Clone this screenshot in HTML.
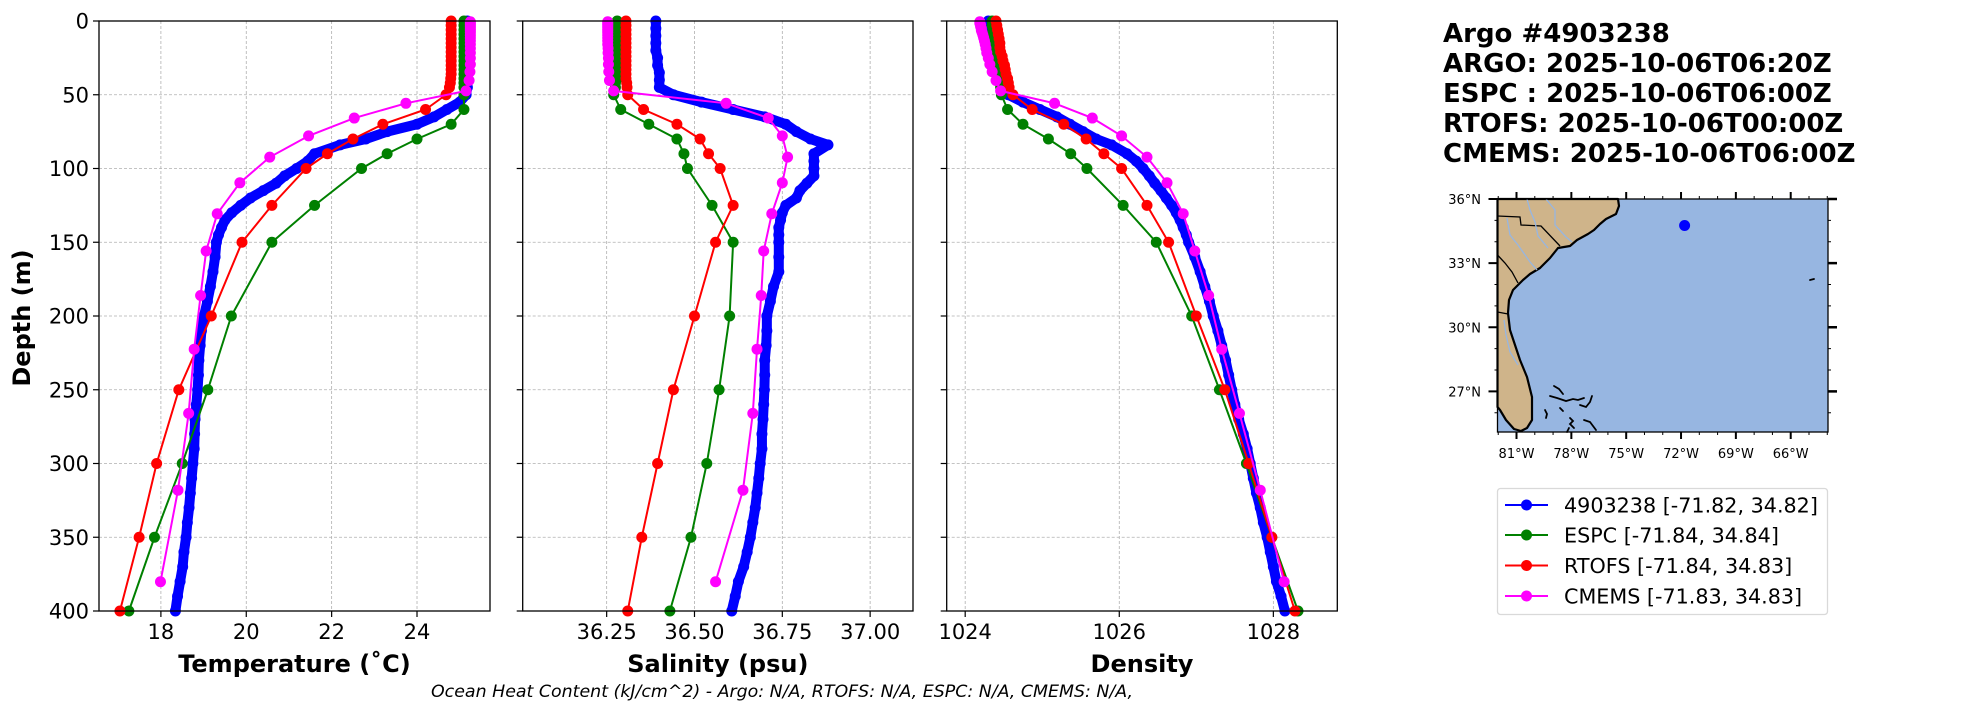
<!DOCTYPE html>
<html><head><meta charset="utf-8"><title>Argo profile comparison</title>
<style>
html,body{margin:0;padding:0;background:#fff;}
svg{display:block;font-family:"DejaVu Sans","Liberation Sans",sans-serif;}
</style></head>
<body>
<svg id="fig" width="1967" height="712" viewBox="0 0 1967 712" xmlns="http://www.w3.org/2000/svg">
<rect width="1967" height="712" fill="#fff"/>
<g id="panels"></g>
<text x="0" y="0" transform="translate(30,318) rotate(-90)" text-anchor="middle" font-size="24" font-weight="bold">Depth (m)</text>
<text x="431" y="697" font-size="16.5" font-style="italic" textLength="702" lengthAdjust="spacingAndGlyphs">Ocean Heat Content (kJ/cm^2) - Argo: N/A,  RTOFS: N/A,  ESPC: N/A,  CMEMS: N/A,</text>
<g font-weight="bold" font-size="26">
<text x="1443" y="42">Argo #4903238</text>
<text x="1443" y="72">ARGO: 2025-10-06T06:20Z</text>
<text x="1443" y="102">ESPC : 2025-10-06T06:00Z</text>
<text x="1443" y="132">RTOFS: 2025-10-06T00:00Z</text>
<text x="1443" y="162">CMEMS: 2025-10-06T06:00Z</text>
</g>
<g id="map">
<rect x="1497.5" y="199" width="330.5" height="233" fill="#97b6e1"/>
<polygon fill="#cfb48a" stroke="#000" stroke-width="2.2" stroke-linejoin="round" points="1497.5,199 1618,199 1619,206 1616,214 1606,219 1600,224 1594,230 1588,234 1577,240 1570,246 1558,248 1550,258 1540,268 1530,274 1523,280 1513,290 1509,300 1508,313 1510,330 1515,345 1520,360 1527,377 1532,397 1532,420 1527,428 1521,431 1514,429 1506,420 1500,410 1497.5,407"/>
<polyline fill="none" stroke="#000" stroke-width="1.3" points="1497.5,216 1520,217 1521,225 1541,226 1560,246"/>
<polyline fill="none" stroke="#000" stroke-width="1.3" points="1497.5,255 1505,263 1512,272 1518,283"/>
<polyline fill="none" stroke="#000" stroke-width="1.3" points="1497.5,312 1508,314"/>
<polyline fill="none" stroke="#97b6e1" stroke-width="1.3" points="1527,199 1530,210 1535,222 1538,236 1548,248"/>
<polyline fill="none" stroke="#97b6e1" stroke-width="1.3" points="1546,199 1555,210 1555,225 1566,237 1572,242"/>
<polyline fill="none" stroke="#97b6e1" stroke-width="1.3" points="1507,218 1510,235 1518,245 1530,262 1537,270"/>
<polyline fill="none" stroke="#97b6e1" stroke-width="1.3" points="1504,320 1506,335 1510,352 1518,365"/>
<g fill="none" stroke="#000" stroke-width="1.8" stroke-linecap="round">
<polyline points="1554,386 1559,389 1563,394"/>
<polyline points="1550,396 1557,398 1566,401 1573,399 1578,400 1584,398"/>
<polyline points="1580,405 1586,407 1590,402 1592,396"/>
<polyline points="1560,408 1563,411"/>
<polyline points="1545,410 1547,414 1546,418"/>
<polyline points="1570,418 1573,421 1570,424 1574,428"/>
<polyline points="1567,432 1569,428"/>
<polyline points="1584,420 1590,422 1596,430"/>
<polyline points="1810,280 1814,279"/>
</g>
<circle cx="1684.6" cy="225.5" r="5.5" fill="#0000ff"/>
<rect x="1497.5" y="199" width="330.5" height="233" fill="none" stroke="#000" stroke-width="1.3"/>
<g id="mapticks"></g>
</g>
<g>
<rect x="1497.5" y="488.5" width="330" height="126" rx="3" fill="#fff" stroke="#d9d9d9" stroke-width="1.3"/>
<g><line x1="1505" y1="505" x2="1548" y2="505" stroke="#0000ff" stroke-width="2"/><circle cx="1526.5" cy="505" r="5.5" fill="#0000ff"/><text x="1564" y="512.5" font-size="20.7">4903238 [-71.82, 34.82]</text></g>
<g><line x1="1505" y1="535" x2="1548" y2="535" stroke="#008000" stroke-width="2"/><circle cx="1526.5" cy="535" r="5.5" fill="#008000"/><text x="1564" y="542.5" font-size="20.7">ESPC [-71.84, 34.84]</text></g>
<g><line x1="1505" y1="565.5" x2="1548" y2="565.5" stroke="#ff0000" stroke-width="2"/><circle cx="1526.5" cy="565.5" r="5.5" fill="#ff0000"/><text x="1564" y="573" font-size="20.7">RTOFS [-71.84, 34.83]</text></g>
<g><line x1="1505" y1="596" x2="1548" y2="596" stroke="#ff00ff" stroke-width="2"/><circle cx="1526.5" cy="596" r="5.5" fill="#ff00ff"/><text x="1564" y="603.5" font-size="20.7">CMEMS [-71.83, 34.83]</text></g>
</g>
</svg>
<script>
// ---------- data ----------
const depthTicks = [0,50,100,150,200,250,300,350,400];
const tempTicks = [18,20,22,24];
const salTicks = [36.25,36.50,36.75,37.00];
const densTicks = [1024,1026,1028];
const tempTickLabels = ["18","20","22","24"];
const salTickLabels = ["36.25","36.50","36.75","37.00"];
const densTickLabels = ["1024","1026","1028"];
const depthTickLabels = ["0","50","100","150","200","250","300","350","400"];

const argoDepth = [0,5,10,15,20,25,30,35,40,45,50,55,60,65,70,75,80,84,90,95,100,105,110,115,120,125,130,135,140,145,150,160,170,180,190,200,210,220,230,240,250,260,270,280,290,300,310,320,330,340,350,360,370,380,390,400];
const argoTemp = [25.18,25.18,25.18,25.18,25.18,25.18,25.18,25.18,25.18,25.18,25.15,25.0,24.7,24.4,24.0,23.3,22.8,22.2,21.6,21.44,21.18,20.9,20.7,20.4,20.1,19.87,19.66,19.5,19.42,19.35,19.3,19.27,19.22,19.16,19.09,19.01,18.95,18.92,18.89,18.88,18.86,18.83,18.8,18.79,18.78,18.75,18.72,18.69,18.66,18.62,18.59,18.54,18.51,18.45,18.39,18.34];
const argoSal = [36.39,36.39,36.39,36.39,36.39,36.395,36.395,36.4,36.4,36.4,36.44,36.52,36.61,36.7,36.76,36.79,36.83,36.88,36.84,36.84,36.84,36.84,36.82,36.8,36.79,36.76,36.75,36.745,36.74,36.74,36.74,36.74,36.74,36.725,36.716,36.706,36.706,36.704,36.7,36.7,36.699,36.697,36.695,36.692,36.692,36.687,36.683,36.678,36.673,36.666,36.659,36.65,36.64,36.625,36.616,36.606];
const argoDens = [1024.3,1024.32,1024.34,1024.36,1024.38,1024.4,1024.42,1024.44,1024.46,1024.5,1024.56,1024.75,1024.97,1025.19,1025.36,1025.53,1025.7,1025.9,1026.1,1026.22,1026.31,1026.39,1026.46,1026.54,1026.61,1026.68,1026.74,1026.79,1026.83,1026.87,1026.9,1026.98,1027.05,1027.11,1027.17,1027.22,1027.28,1027.33,1027.38,1027.42,1027.46,1027.5,1027.55,1027.61,1027.66,1027.7,1027.74,1027.78,1027.83,1027.87,1027.92,1027.96,1028.0,1028.04,1028.1,1028.15];

const espcDepth = [0,3,6,9,12,15,18,21,24,27,30,33,36,39,42,45,50,60,70,80,90,100,125,150,200,250,300,350,400];
const espcTemp = [25.1,25.1,25.1,25.1,25.1,25.1,25.1,25.1,25.1,25.1,25.1,25.1,25.1,25.1,25.1,25.1,25.1,25.1,24.8,24.0,23.3,22.7,21.6,20.6,19.65,19.1,18.5,17.85,17.25];
const espcSal = [36.28,36.28,36.28,36.28,36.28,36.28,36.28,36.28,36.28,36.28,36.28,36.28,36.28,36.28,36.275,36.275,36.27,36.29,36.37,36.45,36.47,36.48,36.55,36.61,36.6,36.57,36.535,36.49,36.43];
const espcDens = [1024.35,1024.35,1024.36,1024.36,1024.37,1024.38,1024.39,1024.4,1024.4,1024.41,1024.42,1024.42,1024.43,1024.44,1024.45,1024.46,1024.47,1024.55,1024.75,1025.08,1025.37,1025.58,1026.05,1026.48,1026.94,1027.3,1027.65,1027.98,1028.32];

const rtofsDepth = [0,3,6,9,12,15,18,21,24,27,30,33,36,39,42,45,50,60,70,80,90,100,125,150,200,250,300,350,400];
const rtofsTemp = [24.8,24.8,24.8,24.8,24.8,24.8,24.8,24.8,24.8,24.8,24.8,24.8,24.8,24.79,24.78,24.76,24.68,24.2,23.2,22.5,21.9,21.4,20.6,19.9,19.18,18.42,17.9,17.49,17.04];
const rtofsSal = [36.305,36.305,36.305,36.305,36.305,36.305,36.305,36.305,36.305,36.305,36.305,36.305,36.305,36.305,36.307,36.308,36.31,36.355,36.45,36.516,36.54,36.573,36.61,36.56,36.5,36.44,36.395,36.35,36.31];
const rtofsDens = [1024.4,1024.41,1024.42,1024.43,1024.44,1024.45,1024.45,1024.46,1024.48,1024.49,1024.51,1024.52,1024.53,1024.55,1024.56,1024.57,1024.62,1024.87,1025.28,1025.57,1025.8,1026.03,1026.36,1026.64,1027.0,1027.37,1027.68,1027.98,1028.28];

const cmemsDepth = [0.5,1.5,2.6,3.8,5.1,6.4,7.9,9.6,11.4,13.5,15.8,18.5,21.6,25.2,29.4,34.4,40.3,47.4,55.8,65.8,77.9,92.3,109.7,130.7,155.9,186.1,222.5,266.0,318.1,380.2];
const cmemsTemp = [25.25,25.25,25.25,25.25,25.25,25.25,25.25,25.25,25.25,25.25,25.25,25.25,25.25,25.25,25.25,25.24,25.22,25.15,23.74,22.53,21.46,20.55,19.85,19.32,19.06,18.93,18.78,18.65,18.4,17.99];
const cmemsSal = [36.253,36.253,36.253,36.253,36.253,36.253,36.253,36.253,36.253,36.253,36.253,36.254,36.254,36.255,36.255,36.256,36.258,36.27,36.59,36.71,36.75,36.765,36.75,36.72,36.697,36.69,36.678,36.666,36.638,36.56];
const cmemsDens = [1024.19,1024.19,1024.2,1024.2,1024.21,1024.21,1024.22,1024.23,1024.24,1024.25,1024.26,1024.27,1024.28,1024.3,1024.32,1024.35,1024.4,1024.46,1025.16,1025.65,1026.03,1026.36,1026.62,1026.83,1026.98,1027.16,1027.33,1027.56,1027.83,1028.14];

const mapLonTicks = [-81,-78,-75,-72,-69,-66];
const mapLonLabels = ["81°W","78°W","75°W","72°W","69°W","66°W"];
const mapLatTicks = [27,30,33,36];
const mapLatLabels = ["27°N","30°N","33°N","36°N"];

// ---------- drawing ----------
const NS = "http://www.w3.org/2000/svg";
const Y0 = 21, Y1 = 611;
function yScale(d){ return Y0 + (d/400)*(Y1-Y0); }
function mk(tag, attrs, parent){
  const e = document.createElementNS(NS, tag);
  for (const k in attrs) e.setAttribute(k, attrs[k]);
  parent.appendChild(e);
  return e;
}
const panels = document.getElementById('panels');
const panelDefs = [
  {key:'temperature', x0:99, x1:490, lo:16.55, hi:25.71, ticks:tempTicks, labels:tempTickLabels, title:'Temperature (˚C)', vals:[argoTemp,espcTemp,rtofsTemp,cmemsTemp], showDepth:true},
  {key:'salinity', x0:522.7, x1:913, lo:36.011, hi:37.122, ticks:salTicks, labels:salTickLabels, title:'Salinity (psu)', vals:[argoSal,espcSal,rtofsSal,cmemsSal], showDepth:false},
  {key:'density', x0:946.7, x1:1337.3, lo:1023.76, hi:1028.83, ticks:densTicks, labels:densTickLabels, title:'Density', vals:[argoDens,espcDens,rtofsDens,cmemsDens], showDepth:false}
];
const seriesDepths = [argoDepth, espcDepth, rtofsDepth, cmemsDepth];
const seriesNames = ['argo','espc','rtofs','cmems'];
const seriesColors = ['#0000ff','#008000','#ff0000','#ff00ff'];
const drawOrder = [0,1,2,3];

panelDefs.forEach(p => {
  const g = mk('g', {}, panels);
  
  
  const xs = v => p.x0 + (v - p.lo)/(p.hi - p.lo)*(p.x1 - p.x0);
  p.ticks.forEach(t => {
    const l = mk('line', {x1:xs(t), x2:xs(t), y1:Y0, y2:Y1, stroke:'#b0b0b0', 'stroke-width':0.8, 'stroke-dasharray':'3,2'}, g);
    
    
  });
  depthTicks.forEach(d => {
    const l = mk('line', {x1:p.x0, x2:p.x1, y1:yScale(d), y2:yScale(d), stroke:'#b0b0b0', 'stroke-width':0.8, 'stroke-dasharray':'3,2'}, g);
    
    
  });
  drawOrder.forEach(si => {
    const vals = p.vals[si], deps = seriesDepths[si];
    const sg = mk('g', {}, g);
    
    
    const pts = vals.map((v,i) => xs(v).toFixed(2) + ',' + yScale(deps[i]).toFixed(2)).join(' ');
    if (si === 0) {
      const thick = mk('polyline', {points:pts, fill:'none', stroke:seriesColors[si], 'stroke-width':10, 'stroke-linejoin':'round', 'stroke-linecap':'round'}, sg);
      
      
    }
    const ln = mk('polyline', {points:pts, fill:'none', stroke:seriesColors[si], 'stroke-width':2}, sg);
    
    
    vals.forEach((v,i) => {
      const c = mk('circle', {cx:xs(v), cy:yScale(deps[i]), r:5.5, fill:seriesColors[si]}, sg);
      
      
    });
  });
  const fr = mk('rect', {x:p.x0, y:Y0, width:p.x1-p.x0, height:Y1-Y0, fill:'none', stroke:'#000', 'stroke-width':1.3}, g);
  
  
  p.ticks.forEach((t,i) => {
    const tk = mk('line', {x1:xs(t), x2:xs(t), y1:Y1, y2:Y1+6, stroke:'#000', 'stroke-width':1.2}, g);
    
    
    const tl = mk('text', {x:xs(t), y:Y1+28, 'text-anchor':'middle', 'font-size':21}, g);
    tl.textContent = p.labels[i];
    
    
  });
  depthTicks.forEach((d,i) => {
    const tk = mk('line', {x1:p.x0-6, x2:p.x0, y1:yScale(d), y2:yScale(d), stroke:'#000', 'stroke-width':1.2}, g);
    
    
    if (p.showDepth) {
      const tl = mk('text', {x:p.x0-10, y:yScale(d)+7.5, 'text-anchor':'end', 'font-size':21}, g);
      tl.textContent = depthTickLabels[i];
      
      
    }
  });
  const at = mk('text', {x:(p.x0+p.x1)/2, y:672, 'text-anchor':'middle', 'font-size':24, 'font-weight':'bold'}, g);
  at.textContent = p.title;
  
  
});

const mt = document.getElementById('mapticks');
const MX0 = 1497.5, MX1 = 1828, MY0 = 199, MY1 = 432;
const lonLo = -82.04, lonHi = -63.96, latLo = 25.1, latHi = 36.0;
const lonX = v => MX0 + (v - lonLo)/(lonHi - lonLo)*(MX1 - MX0);
const latY = v => MY1 - (v - latLo)/(latHi - latLo)*(MY1 - MY0);
for (let lon = -82; lon <= -64; lon++) {
  const major = mapLonTicks.includes(lon);
  const len = major ? 7 : 3;
  const a = mk('line', {x1:lonX(lon), x2:lonX(lon), y1:MY0-len, y2:MY0, stroke:'#000', 'stroke-width':major?2:1}, mt);
  
  
  const b = mk('line', {x1:lonX(lon), x2:lonX(lon), y1:MY1, y2:MY1+len, stroke:'#000', 'stroke-width':major?2:1}, mt);
  
  
}
for (let lat = 26; lat <= 36; lat++) {
  const major = mapLatTicks.includes(lat);
  const len = major ? 9 : 3;
  const a = mk('line', {x1:MX0-len, x2:MX0, y1:latY(lat), y2:latY(lat), stroke:'#000', 'stroke-width':major?2:1}, mt);
  
  
  const b = mk('line', {x1:MX1, x2:MX1+len, y1:latY(lat), y2:latY(lat), stroke:'#000', 'stroke-width':major?2.5:1}, mt);
  
  
}
mapLonTicks.forEach((lon,i) => {
  const t = mk('text', {x:lonX(lon), y:458, 'text-anchor':'middle', 'font-size':13}, mt);
  t.textContent = mapLonLabels[i];
  
  
});
mapLatTicks.forEach((lat,i) => {
  const t = mk('text', {x:1481, y:latY(lat)+5, 'text-anchor':'end', 'font-size':13}, mt);
  t.textContent = mapLatLabels[i];
  
  
});
</script>
</body></html>
